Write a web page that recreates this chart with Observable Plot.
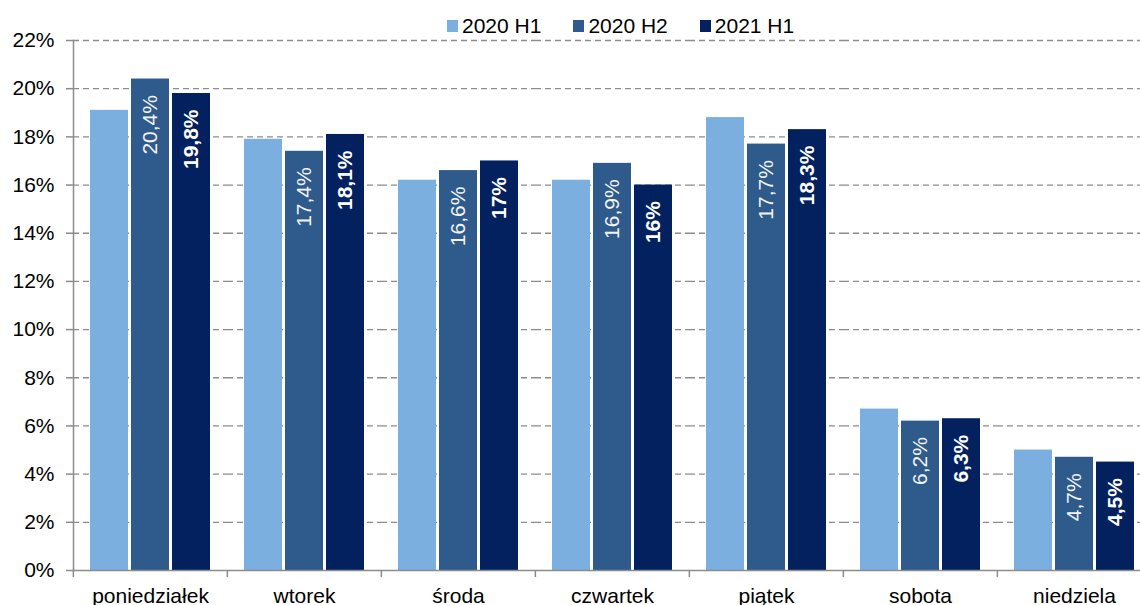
<!DOCTYPE html>
<html>
<head>
<meta charset="utf-8">
<script src="https://cdn.jsdelivr.net/npm/d3@7"></script>
<script src="https://cdn.jsdelivr.net/npm/@observablehq/plot@0.6"></script>
<style>
  body { margin: 0; overflow: hidden; background: #fff; font-family: "Liberation Sans", Arial, sans-serif; }
  #wrap { position: relative; width: 1140px; height: 605px; overflow: hidden; }
  #legend { position: absolute; top: 15px; left: 447px; display: flex; align-items: center; font-size: 21px; line-height: 21px; color: #000; }
  #legend .item { display: flex; align-items: center; margin-right: 32px; }
  #legend .sw { width: 11px; height: 12px; margin-right: 4px; }
</style>
</head>
<body>
<div id="wrap">
  <div id="chart"></div>
  <div id="legend"></div>
</div>
<script>
// Days of the week (category axis)
const days = ["poniedziałek", "wtorek", "środa", "czwartek", "piątek", "sobota", "niedziela"];
// Periods (series)
const series = ["2020 H1", "2020 H2", "2021 H1"];
const colors = ["#7bafdf", "#2e5a8c", "#03215f"];
// Share of transactions per day, %
const h1_2020 = [19.1, 17.9, 16.2, 16.2, 18.8, 6.7, 5.0];
const h2_2020 = [20.4, 17.4, 16.6, 16.9, 17.7, 6.2, 4.7];
const h1_2021 = [19.8, 18.1, 17, 16, 18.3, 6.3, 4.5];
// Y axis ticks, %
const yTicks = [0, 2, 4, 6, 8, 10, 12, 14, 16, 18, 20, 22];

const values = [h1_2020, h2_2020, h1_2021];
const data = days.flatMap((day, i) => series.map((s, j) => ({day, series: s, value: values[j][i]})));
const fmt = d => String(d.value).replace(".", ",") + "%";

const W = 1140, H = 605, ML = 72, MR = -12;
const halfBand = (W - ML - MR) / days.length / 2;
const font = "Liberation Sans, Arial, sans-serif";

const chart = Plot.plot({
  width: W,
  height: H,
  marginLeft: ML,
  marginRight: MR,
  marginTop: 40,
  marginBottom: 35,
  style: {fontFamily: font, fontSize: "21px", color: "#000", background: "#fff"},
  fx: {domain: days, padding: 0, label: null},
  x: {domain: series, paddingInner: 0.07, paddingOuter: 0.385, axis: null},
  y: {domain: [0, 22], label: null},
  color: {domain: series, range: colors},
  marks: [
    Plot.ruleY(yTicks.filter(v => v > 0), {stroke: "#8c8c8c", strokeWidth: 1.3, strokeDasharray: "6,4"}),
    Plot.barY(data, {fx: "day", x: "series", y: "value", fill: "series"}),
    Plot.text(data.filter(d => d.series === "2020 H2"), {
      fx: "day", x: "series", y: "value", text: fmt, rotate: -90, textAnchor: "end",
      dy: 16, fill: "#f2f2f2", fontSize: 21
    }),
    Plot.text(data.filter(d => d.series === "2021 H1"), {
      fx: "day", x: "series", y: "value", text: fmt, rotate: -90, textAnchor: "end",
      dy: 16, fill: "#fff", fontSize: 21, fontWeight: "bold"
    }),
    Plot.ruleY([0], {stroke: "#8c8c8c", strokeWidth: 1.5}),
    Plot.frame({anchor: "left", facetAnchor: "left", stroke: "#8c8c8c", strokeWidth: 1.5}),
    Plot.axisY({ticks: yTicks, tickSize: 7, text: null, stroke: "#8c8c8c", strokeWidth: 1.5}),
    Plot.axisY({ticks: yTicks, tickSize: 0, tickPadding: 19, tickFormat: d => d + "%", fontSize: 21, fill: "#000"}),
    Plot.axisFx({anchor: "bottom", tickSize: 7, text: null, dx: -halfBand, stroke: "#8c8c8c", strokeWidth: 1.5}),
    Plot.axisFx({anchor: "bottom", tickSize: 0, tickPadding: 18, fontSize: 21, fill: "#000", label: null})
  ]
});
document.getElementById("chart").append(chart);

// Legend
const legend = document.getElementById("legend");
series.forEach((s, i) => {
  const item = document.createElement("div");
  item.className = "item";
  const sw = document.createElement("span");
  sw.className = "sw";
  sw.style.background = colors[i];
  const label = document.createElement("span");
  label.textContent = s;
  item.append(sw, label);
  legend.append(item);
});
</script>
</body>
</html>
